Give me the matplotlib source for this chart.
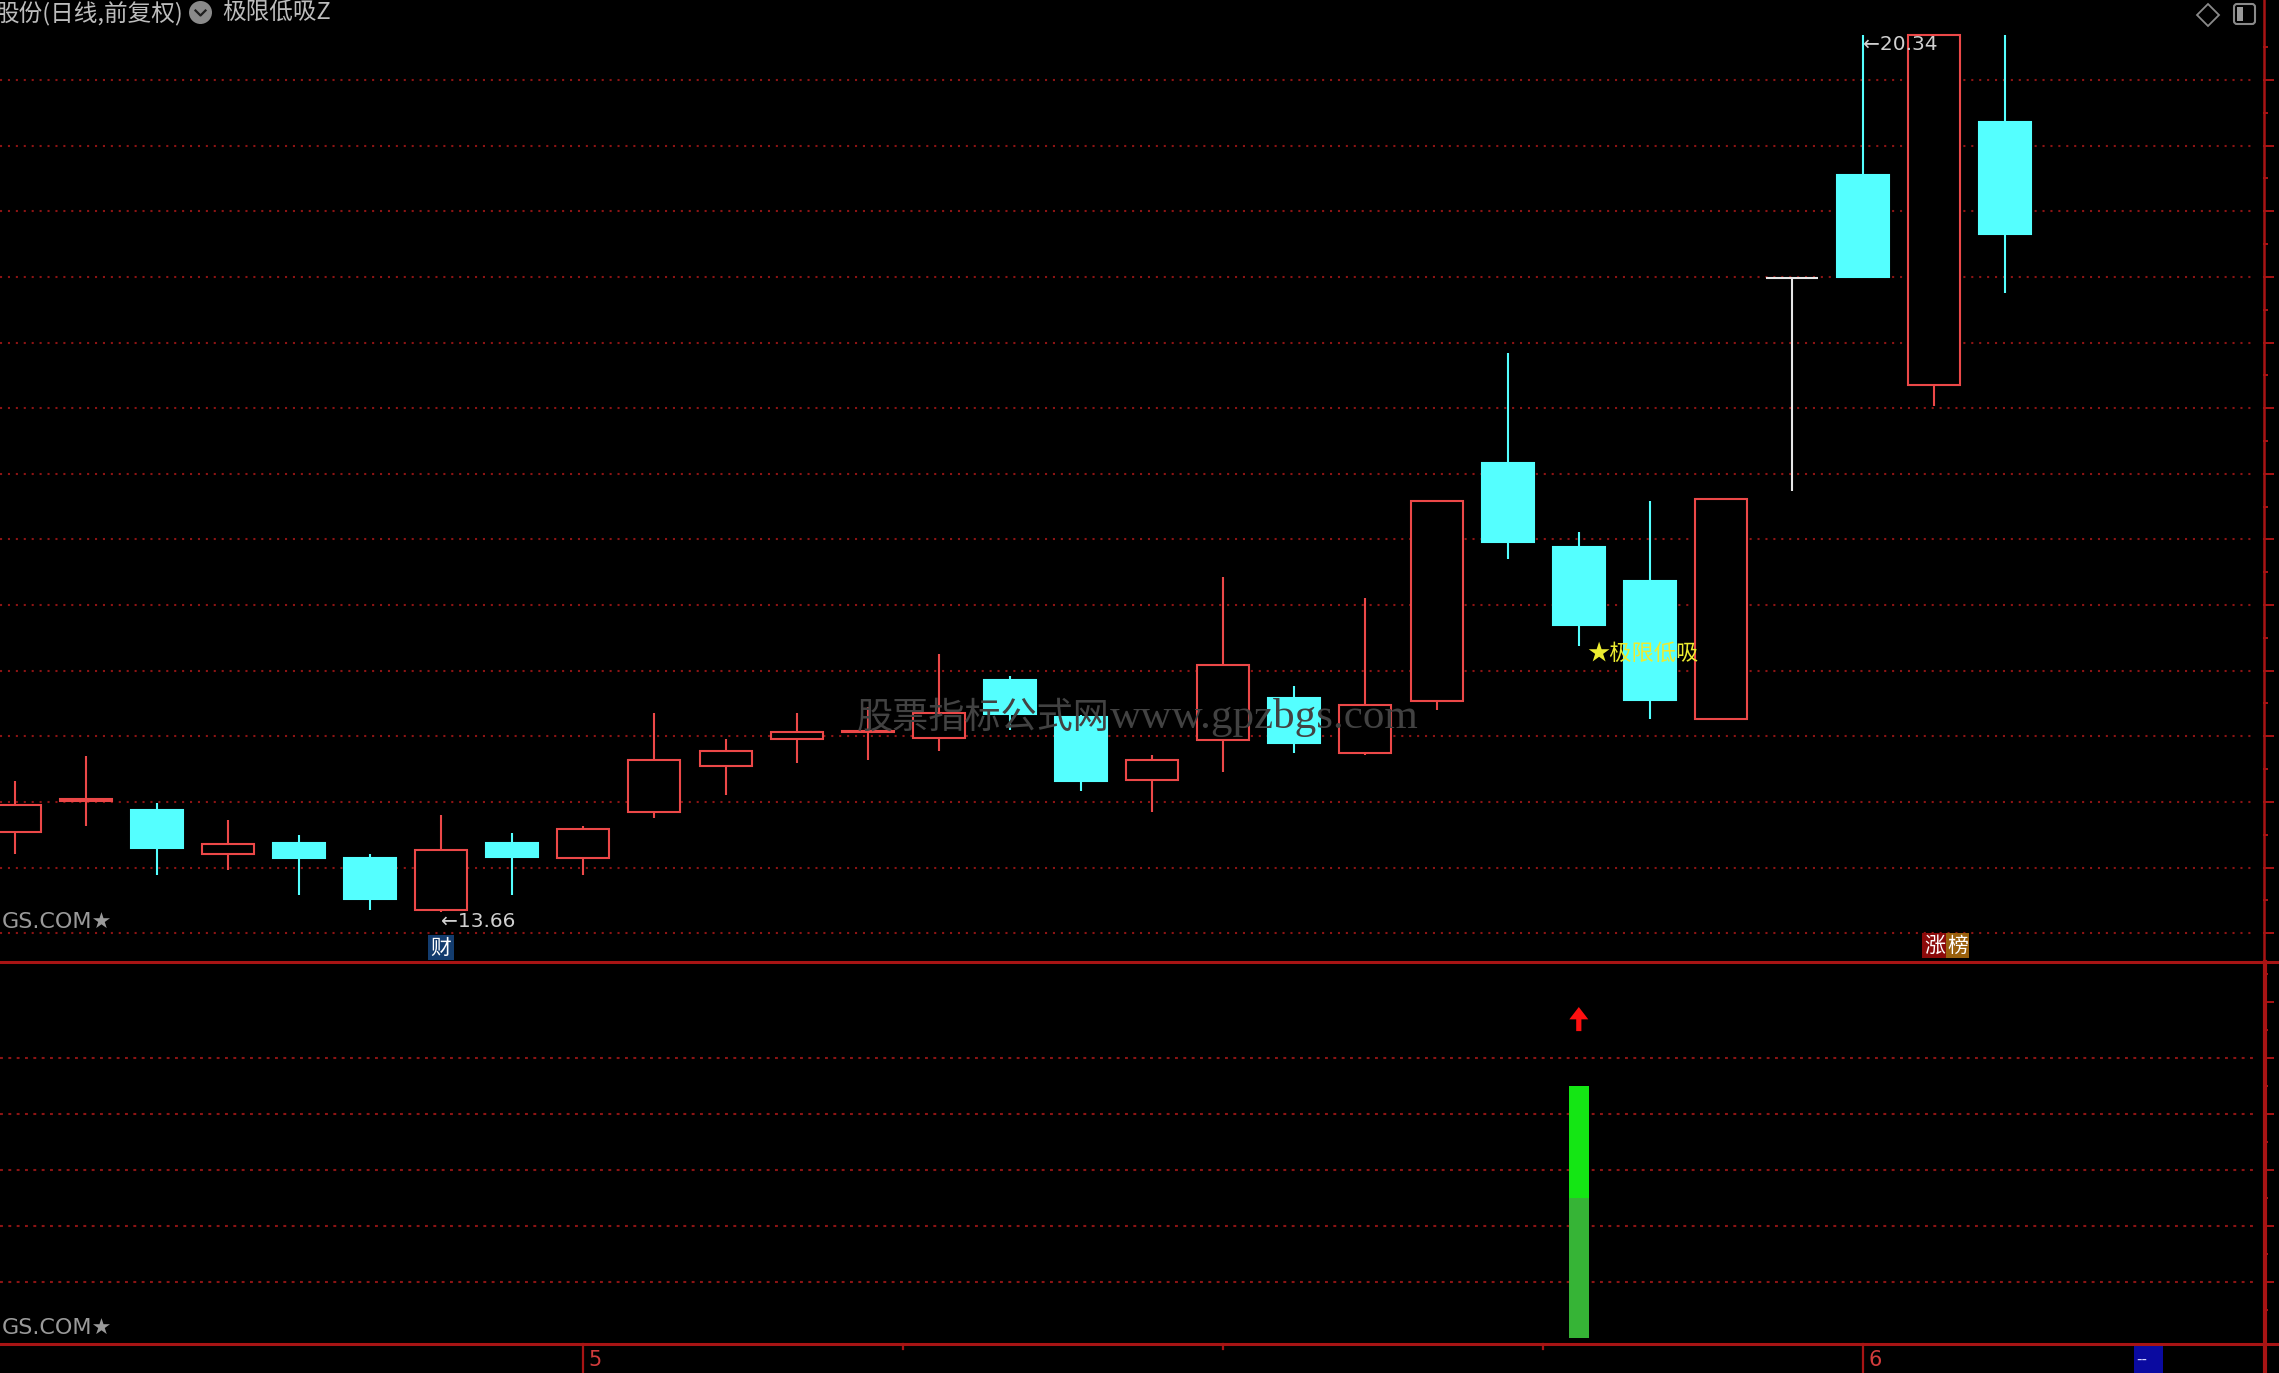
import matplotlib
matplotlib.use("Agg")
import matplotlib.pyplot as plt
import numpy as np
from matplotlib.patches import Rectangle, Polygon, Circle, FancyBboxPatch
from matplotlib.lines import Line2D
from matplotlib.transforms import Affine2D, blended_transform_factory

# ---------------- data (daily candles) ----------------
opens  = [14.27, 14.51, 14.44, 14.10, 14.19, 14.07, 13.68, 14.19, 14.07, 14.42,
          14.77, 14.98, 15.03, 14.99, 15.43, 15.15, 14.67, 14.97, 15.29, 14.87,
          15.27, 17.08, 16.44, 16.18, 15.13, 18.49, 19.28, 17.68, 19.68]
highs  = [14.66, 14.85, 14.49, 14.36, 14.25, 14.10, 14.40, 14.26, 14.32, 15.18,
          14.98, 15.18, 15.22, 15.63, 15.46, 15.16, 14.86, 16.21, 15.38, 16.05,
          16.79, 17.92, 16.56, 16.79, 16.81, 18.49, 20.34, 20.34, 20.34]
lows   = [14.10, 14.32, 13.94, 13.98, 13.79, 13.68, 13.66, 13.79, 13.94, 14.38,
          14.55, 14.80, 14.82, 14.89, 15.05, 14.58, 14.42, 14.73, 14.87, 14.86,
          15.20, 16.35, 15.69, 15.13, 15.13, 16.87, 18.50, 17.52, 18.38]
closes = [14.48, 14.52, 14.15, 14.18, 14.07, 13.76, 14.13, 14.08, 14.29, 14.82,
          14.89, 15.03, 15.04, 15.18, 15.17, 14.66, 14.82, 15.54, 14.95, 15.24,
          16.79, 16.48, 15.85, 15.28, 16.81, 18.49, 18.50, 20.34, 18.83]

month_positions = [8, 26]
month_labels = ["5", "6"]
minor_date_positions = [12.5, 17.0, 21.5]

max_label_index = 26
min_label_index = 6
cai_index = 6
zhangbang_index = 27

signal_index = 22
signal_low_part = 2.5     # darker green part
signal_high_part = 2.0    # bright green part
arrow_level = 5.48

title_left = "股份(日线,前复权)"
title_indicator = "极限低吸Z"
signal_text = "★极限低吸"
watermark_cn = "股票指标公式网"
watermark_en = "www.gpzbgs.com"
site_text = "GS.COM★"

# ---------------- styling ----------------
W, H, DPI = 2279, 1373, 100
RED = "#ec4848"
CYAN = "#54ffff"
WHITE = "#e6e6e6"
BORDER = "#a81414"
GRID = "#8c1414"
GRAY = "#bdbdbd"
CJK = ["Noto Sans CJK SC", "DejaVu Sans"]
plt.rcParams["font.family"] = ["DejaVu Sans", "Noto Sans CJK SC"]

fig = plt.figure(figsize=(W / DPI, H / DPI), dpi=DPI, facecolor="black")
pix = Affine2D().scale(1 / DPI, -1 / DPI).translate(0, H / DPI) + fig.dpi_scale_trans

x_left = -14.6 / 71.1
x_right = (2263 - 14.6) / 71.1

ax = fig.add_axes([0, 1 - 962 / H, 2263 / W, 962 / H])
ax2 = fig.add_axes([0, 1 - 1344 / H, 2263 / W, (1344 - 962) / H])
for a in (ax, ax2):
    a.set_facecolor("black")
    a.set_xlim(x_left, x_right)
    for s in a.spines.values():
        s.set_visible(False)
    a.set_xticks([])
    a.yaxis.tick_right()

ax.set_ylim(13.28, 20.61)
ax2.set_ylim(-0.107, 6.714)

# ticks on right
ax.set_yticks(np.arange(13.5, 20.01, 0.5))
ax.set_yticks(np.arange(13.75, 20.3, 0.5), minor=True)
ax2.set_yticks(np.arange(1, 6.01, 1))
ax2.set_yticks(np.arange(0.5, 6.6, 1), minor=True)
for a in (ax, ax2):
    a.tick_params(axis="y", which="major", length=8, width=1.4, color=BORDER,
                  labelright=False, labelleft=False, direction="out")
    a.tick_params(axis="y", which="minor", length=3.5, width=1.4, color=BORDER,
                  labelright=False, labelleft=False, direction="out")

# grid lines
gx1 = (2255 - 14.6) / 71.1
for v in np.arange(13.5, 20.01, 0.5):
    ax.plot([x_left, gx1], [v, v], color=GRID, lw=1.5, ls=(0, (1, 2.8)), zorder=0)
for v in np.arange(1, 5.01, 1):
    ax2.plot([x_left, gx1], [v, v], color=GRID, lw=1.5, ls=(0, (1.4, 2.6)), zorder=0)

# candles
bw = 52 / 71.1
LW = 1.5
for i, (o, h, l, c) in enumerate(zip(opens, highs, lows, closes)):
    if c > o:
        col, face = RED, "black"
    elif c < o:
        col, face = CYAN, CYAN
    else:
        col, face = WHITE, WHITE
    top, bot = max(o, c), min(o, c)
    if h > top:
        ax.vlines(i, top, h, color=col, lw=LW, zorder=2)
    if l < bot:
        ax.vlines(i, l, bot, color=col, lw=LW, zorder=2)
    if c == o:
        ax.hlines(o, i - bw / 2, i + bw / 2, color=col, lw=LW, zorder=3)
    else:
        ax.add_patch(Rectangle((i - bw / 2, bot), bw, top - bot, facecolor=face,
                               edgecolor=col, lw=LW, zorder=3))

# max / min labels
ax.text(max_label_index, highs[max_label_index], "←" + f"{highs[max_label_index]:.2f}",
        ha="left", va="top", color="#d0d0d0", fontsize=14.5, zorder=5)
ax.text(min_label_index, lows[min_label_index], "←" + f"{lows[min_label_index]:.2f}",
        ha="left", va="top", color="#d0d0d0", fontsize=14.5, zorder=5)

# signal text
ax.text(signal_index + 8 / 71.1, lows[signal_index] - 0.06, signal_text, ha="left",
        va="center", color="#ecec30", fontsize=16, family=CJK, zorder=6)

# watermark
fig.text(1110, 728, watermark_cn, transform=pix, ha="right", va="baseline",
         color="#424242", fontsize=26, family=["Noto Sans CJK SC"], zorder=10)
fig.text(1110, 728, watermark_en, transform=pix, ha="left", va="baseline",
         color="#424242", fontsize=31, family=["Liberation Serif"], zorder=10)

# lower panel signal
sw = 20 / 71.1
ax2.bar(signal_index, signal_low_part, width=sw, bottom=0, color="#36b436", zorder=3)
ax2.bar(signal_index, signal_high_part, width=sw, bottom=signal_low_part,
        color="#14e614", zorder=3)
hw, sh = 9.5 / 71.1, 2.6 / 71.1
ax2.add_patch(Polygon([(signal_index - sh, arrow_level), (signal_index + sh, arrow_level),
                       (signal_index + sh, arrow_level + 0.21), (signal_index + hw, arrow_level + 0.21),
                       (signal_index, arrow_level + 0.43), (signal_index - hw, arrow_level + 0.21),
                       (signal_index - sh, arrow_level + 0.21)],
                      closed=True, facecolor="#ff1010", edgecolor="none", zorder=4))

# blended transforms: x in data, y in pixels
bt = blended_transform_factory(ax.transData, pix)

# 财 box
fig.add_artist(Rectangle((cai_index - 13 / 71.1, 935), 26 / 71.1, 25, transform=bt,
                         facecolor="#133c6e", edgecolor="none"))
fig.text(cai_index, 947.5, "财", transform=bt, ha="center", va="center", color="white",
         fontsize=15, family=CJK)

# 涨榜 box
fig.add_artist(Rectangle((zhangbang_index - 12 / 71.1, 933), 24 / 71.1, 25, transform=bt,
                         facecolor="#8c0a0a", edgecolor="none"))
fig.add_artist(Rectangle((zhangbang_index + 12 / 71.1, 933), 23 / 71.1, 25, transform=bt,
                         facecolor="#9a600c", edgecolor="none"))
fig.text(zhangbang_index, 945.5, "涨", transform=bt, ha="center", va="center", color="white",
         fontsize=15, family=CJK)
fig.text(zhangbang_index + 23.5 / 71.1, 945.5, "榜", transform=bt, ha="center", va="center",
         color="white", fontsize=15, family=CJK)

# site texts
fig.text(2, 922, site_text, transform=pix, ha="left", va="center", color="#9a9a9a", fontsize=16)
fig.text(2, 1328, site_text, transform=pix, ha="left", va="center", color="#9a9a9a", fontsize=16)

# frame lines
fig.add_artist(Line2D([0, W], [961.5, 961.5], transform=pix, color=BORDER, lw=2.2))
fig.add_artist(Line2D([0, W], [1344, 1344], transform=pix, color=BORDER, lw=2.2))
fig.add_artist(Line2D([2263.5, 2263.5], [0, 962], transform=pix, color=BORDER, lw=1.8))
fig.add_artist(Line2D([2264.5, 2264.5], [962, H], transform=pix, color=BORDER, lw=3.0))

# date ticks
for p, lab in zip(month_positions, month_labels):
    fig.add_artist(Line2D([p, p], [1344, H], transform=bt, color=BORDER, lw=1.6))
    fig.text(p + 5 / 71.1, 1360, lab, transform=bt, ha="left", va="center",
             color="#d23c3c", fontsize=15)
for p in minor_date_positions:
    fig.add_artist(Line2D([p, p], [1344, 1349], transform=bt, color=BORDER, lw=1.6))

# "--" box bottom right
fig.add_artist(Rectangle((2134, 1345), 29, 28, transform=pix, facecolor="#0a0aa0",
                         edgecolor="none"))
fig.text(2136, 1359, "--", transform=pix, ha="left", va="center", color="#d0d0ff", fontsize=11)

# title
fig.text(183, 13, title_left, transform=pix, ha="right", va="center", color=GRAY,
         fontsize=17, family=CJK)
fig.add_artist(Circle((200.5, 12.5), 11.5, transform=pix, facecolor="#8a8a8a", edgecolor="none"))
fig.add_artist(Line2D([195.5, 200.5, 205.5], [10.5, 15.5, 10.5], transform=pix,
                      color="#1e1e1e", lw=1.6))
fig.text(222, 13, title_indicator, transform=pix, ha="left", va="center", color=GRAY,
         fontsize=17, family=CJK)

# top right icons
fig.add_artist(Polygon([(2208, 4), (2219, 15), (2208, 26), (2197, 15)], closed=True,
                       transform=pix, facecolor="none", edgecolor="#8a8a8a", lw=1.3))
fig.add_artist(FancyBboxPatch((2234, 4), 21, 20, boxstyle="round,pad=0,rounding_size=3",
                              transform=pix, facecolor="none", edgecolor="#8a8a8a", lw=1.5))
fig.add_artist(Rectangle((2237, 7), 6, 14, transform=pix, facecolor="#9a9a9a",
                         edgecolor="none"))

fig.savefig("out.png", dpi=DPI, facecolor="black")
